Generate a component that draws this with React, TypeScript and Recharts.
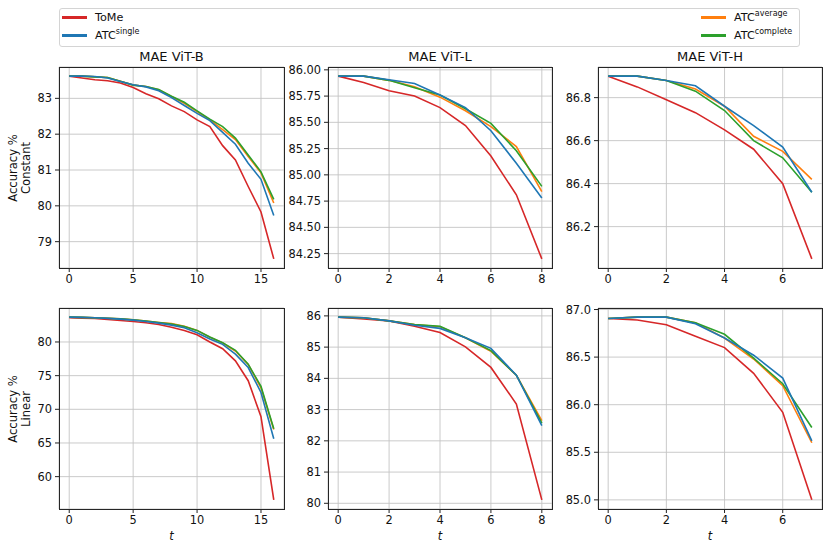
import React from 'react';
import { LineChart, Line, XAxis, YAxis, CartesianGrid } from 'recharts';

const FONT = "'DejaVu Sans', sans-serif";

// ---- steps (t) ----
const stepsB = [0, 1, 2, 3, 4, 5, 6, 7, 8, 9, 10, 11, 12, 13, 14, 15, 16];
const stepsL = [0, 1, 2, 3, 4, 5, 6, 7, 8];
const stepsH = [0, 1, 2, 3, 4, 5, 6, 7];

// ---- Constant schedule ----
const tomeBConst = [83.62, 83.57, 83.52, 83.49, 83.43, 83.3, 83.13, 82.99, 82.79, 82.63, 82.4, 82.21, 81.68, 81.28, 80.54, 79.83, 78.52];
const singleBConst = [83.62, 83.62, 83.61, 83.57, 83.47, 83.38, 83.32, 83.21, 83.02, 82.8, 82.58, 82.38, 82.05, 81.72, 81.19, 80.74, 79.73];
const averageBConst = [83.62, 83.62, 83.6, 83.58, 83.48, 83.37, 83.33, 83.24, 83.05, 82.86, 82.63, 82.4, 82.13, 81.85, 81.38, 80.92, 80.08];
const completeBConst = [83.62, 83.62, 83.6, 83.58, 83.48, 83.37, 83.33, 83.25, 83.06, 82.89, 82.65, 82.42, 82.21, 81.89, 81.42, 80.95, 80.18];

const tomeLConst = [85.94, 85.88, 85.8, 85.75, 85.64, 85.47, 85.18, 84.81, 84.2];
const singleLConst = [85.94, 85.94, 85.905, 85.87, 85.76, 85.64, 85.42, 85.11, 84.78];
const averageLConst = [85.94, 85.94, 85.9, 85.84, 85.74, 85.61, 85.46, 85.27, 84.84];
const completeLConst = [85.94, 85.94, 85.9, 85.83, 85.76, 85.63, 85.49, 85.23, 84.89];

const tomeHConst = [86.9, 86.85, 86.79, 86.73, 86.65, 86.56, 86.4, 86.05];
const singleHConst = [86.9, 86.9, 86.88, 86.855, 86.76, 86.67, 86.57, 86.36];
const averageHConst = [86.9, 86.9, 86.88, 86.84, 86.76, 86.62, 86.55, 86.42];
const completeHConst = [86.9, 86.9, 86.88, 86.83, 86.74, 86.6, 86.52, 86.36];

// ---- Linear schedule ----
const tomeBLin = [83.59, 83.55, 83.49, 83.35, 83.2, 83.05, 82.85, 82.6, 82.2, 81.7, 81.08, 80.0, 79.0, 77.2, 74.25, 68.9, 56.55];
const singleBLin = [83.69, 83.65, 83.6, 83.5, 83.4, 83.25, 83.05, 82.8, 82.5, 82.1, 81.38, 80.44, 79.65, 78.2, 76.2, 72.5, 65.64];
const averageBLin = [83.69, 83.65, 83.6, 83.52, 83.43, 83.3, 83.12, 82.9, 82.72, 82.35, 81.72, 80.7, 79.85, 78.65, 76.65, 73.2, 67.0];
const completeBLin = [83.69, 83.65, 83.6, 83.52, 83.43, 83.3, 83.12, 82.9, 82.68, 82.3, 81.72, 80.74, 79.9, 78.77, 76.7, 73.4, 67.1];

const tomeLLin = [85.96, 85.9, 85.84, 85.67, 85.47, 85.01, 84.35, 83.18, 80.11];
const singleLLin = [85.96, 85.94, 85.84, 85.7, 85.6, 85.3, 84.96, 84.1, 82.49];
const averageLLin = [85.96, 85.94, 85.84, 85.72, 85.65, 85.3, 84.87, 84.1, 82.65];
const completeLLin = [85.96, 85.94, 85.84, 85.72, 85.67, 85.3, 84.89, 84.1, 82.57];

const tomeHLin = [86.905, 86.89, 86.84, 86.72, 86.6, 86.33, 85.92, 85.0];
const singleHLin = [86.905, 86.92, 86.92, 86.85, 86.7, 86.52, 86.28, 85.62];
const averageHLin = [86.905, 86.92, 86.92, 86.86, 86.7, 86.48, 86.2, 85.6];
const completeHLin = [86.905, 86.92, 86.92, 86.86, 86.74, 86.49, 86.22, 85.76];

// ---- ticks ----
const xTicksB = [0, 5, 10, 15];
const xTicksL = [0, 2, 4, 6, 8];
const xTicksH = [0, 2, 4, 6];
const yTicksBConst = [79, 80, 81, 82, 83];
const yTicksLConst = [84.25, 84.5, 84.75, 85, 85.25, 85.5, 85.75, 86];
const yTicksHConst = [86.2, 86.4, 86.6, 86.8];
const yTicksBLin = [60, 65, 70, 75, 80];
const yTicksLLin = [80, 81, 82, 83, 84, 85, 86];
const yTicksHLin = [85, 85.5, 86, 86.5, 87];

const titles = ['MAE ViT-B', 'MAE ViT-L', 'MAE ViT-H'];
const rowLabels = ['Constant', 'Linear'];

// drawing order: ToMe, average, complete, single (single on top)
const seriesInfo = [
  { key: 'tome', name: 'ToMe', sup: '', color: '#d62728' },
  { key: 'average', name: 'ATC', sup: 'average', color: '#ff7f0e' },
  { key: 'complete', name: 'ATC', sup: 'complete', color: '#2ca02c' },
  { key: 'single', name: 'ATC', sup: 'single', color: '#1f77b4' },
];
const legendLeft = ['tome', 'single'];
const legendRight = ['average', 'complete'];

function buildRows(steps: number[], tome: number[], single: number[], average: number[], complete: number[]) {
  return steps.map((t, i) => ({ t, tome: tome[i], single: single[i], average: average[i], complete: complete[i] }));
}

function pad(lo: number, hi: number): [number, number] {
  const m = (hi - lo) * 0.05;
  return [lo - m, hi + m];
}

const colLeft = [59, 328, 598];
const colWidth = [225, 224, 224];
const rowTop = [67, 308];
const plotH = 201;

const panels = [
  { row: 0, col: 0, steps: stepsB, rows: buildRows(stepsB, tomeBConst, singleBConst, averageBConst, completeBConst), xTicks: xTicksB, yTicks: yTicksBConst, dec: 0 },
  { row: 0, col: 1, steps: stepsL, rows: buildRows(stepsL, tomeLConst, singleLConst, averageLConst, completeLConst), xTicks: xTicksL, yTicks: yTicksLConst, dec: 2 },
  { row: 0, col: 2, steps: stepsH, rows: buildRows(stepsH, tomeHConst, singleHConst, averageHConst, completeHConst), xTicks: xTicksH, yTicks: yTicksHConst, dec: 1 },
  { row: 1, col: 0, steps: stepsB, rows: buildRows(stepsB, tomeBLin, singleBLin, averageBLin, completeBLin), xTicks: xTicksB, yTicks: yTicksBLin, dec: 0 },
  { row: 1, col: 1, steps: stepsL, rows: buildRows(stepsL, tomeLLin, singleLLin, averageLLin, completeLLin), xTicks: xTicksL, yTicks: yTicksLLin, dec: 0 },
  { row: 1, col: 2, steps: stepsH, rows: buildRows(stepsH, tomeHLin, singleHLin, averageHLin, completeHLin), xTicks: xTicksH, yTicks: yTicksHLin, dec: 1 },
];

const tickStyle = { fontSize: 11.4, fill: '#111', fontFamily: FONT };

function Panel(p: any) {
  const left = colLeft[p.col];
  const top = rowTop[p.row];
  const w = colWidth[p.col];
  const vals: number[] = p.rows.flatMap((r: any) => [r.tome, r.single, r.average, r.complete]);
  const yDom = pad(Math.min(...vals), Math.max(...vals));
  const xDom = pad(p.steps[0], p.steps[p.steps.length - 1]);
  return (
    <>
      <div style={{ position: 'absolute', left: left - 50, top: top - 5 }}>
        <LineChart width={w + 55} height={plotH + 35} data={p.rows} margin={{ top: 5, right: 5, bottom: 0, left: 0 }}>
          <CartesianGrid stroke="#c4c4c4" strokeWidth={0.9} />
          <XAxis
            dataKey="t"
            type="number"
            domain={xDom}
            ticks={p.xTicks}
            allowDataOverflow
            interval={0}
            height={30}
            tickSize={4}
            tickMargin={3}
            axisLine={false}
            tickLine={{ stroke: '#222', strokeWidth: 1 }}
            tick={tickStyle}
          />
          <YAxis
            type="number"
            domain={yDom}
            ticks={p.yTicks}
            allowDataOverflow
            interval={0}
            width={50}
            tickSize={4}
            tickMargin={3}
            axisLine={false}
            tickLine={{ stroke: '#222', strokeWidth: 1 }}
            tick={tickStyle}
            tickFormatter={(v: number) => v.toFixed(p.dec)}
          />
          {seriesInfo.map((s) => (
            <Line
              key={s.key}
              type="linear"
              dataKey={s.key}
              stroke={s.color}
              strokeWidth={1.6}
              dot={false}
              activeDot={false}
              isAnimationActive={false}
            />
          ))}
        </LineChart>
      </div>
      <div
        style={{
          position: 'absolute',
          left: left,
          top: top,
          width: w + 1,
          height: plotH + 1,
          border: '1px solid #262626',
          boxSizing: 'border-box',
          pointerEvents: 'none',
        }}
      />
    </>
  );
}

function LegendEntry({ k }: { k: string }) {
  const s = seriesInfo.find((x) => x.key === k)!;
  return (
    <div style={{ display: 'flex', alignItems: 'center', height: 18 }}>
      <div style={{ width: 25, height: 3, background: s.color, marginRight: 8 }} />
      <span style={{ fontSize: 11.2, fontFamily: FONT, color: '#111', whiteSpace: 'nowrap' }}>
        {s.name}
        {s.sup ? <sup style={{ fontSize: 8, verticalAlign: 'top', position: 'relative', top: -2 }}>{s.sup}</sup> : null}
      </span>
    </div>
  );
}

export default function App() {
  return (
    <div style={{ position: 'absolute', left: 0, top: 0, width: 830, height: 552, background: '#fff', overflow: 'hidden', fontFamily: FONT }}>
      {/* legend box */}
      <div
        style={{
          position: 'absolute',
          left: 59,
          top: 8,
          width: 741,
          height: 39,
          border: '1px solid #d4d4d4',
          borderRadius: 3,
          boxSizing: 'border-box',
          background: 'rgba(255,255,255,0.8)',
        }}
      />
      <div style={{ position: 'absolute', left: 62, top: 8.5 }}>
        {legendLeft.map((k) => (
          <LegendEntry key={k} k={k} />
        ))}
      </div>
      <div style={{ position: 'absolute', left: 701, top: 8.5 }}>
        {legendRight.map((k) => (
          <LegendEntry key={k} k={k} />
        ))}
      </div>

      {titles.map((t, i) => (
        <div
          key={t}
          style={{
            position: 'absolute',
            left: colLeft[i],
            width: colWidth[i],
            top: 48,
            lineHeight: '17px',
            textAlign: 'center',
            fontSize: 13,
            color: '#111',
          }}
        >
          {t}
        </div>
      ))}

      {rowLabels.map((r, i) => (
        <div
          key={r}
          style={{
            position: 'absolute',
            left: 20 - 60,
            top: rowTop[i] + plotH / 2 - 13,
            width: 120,
            height: 26,
            transform: 'rotate(-90deg)',
            transformOrigin: '60px 13px',
            textAlign: 'center',
            fontSize: 11.6,
            lineHeight: '12.5px',
            color: '#111',
          }}
        >
          <div>Accuracy %</div>
          <div>{r}</div>
        </div>
      ))}

      {colLeft.map((l, i) => (
        <div
          key={'t' + i}
          style={{
            position: 'absolute',
            left: l,
            width: colWidth[i],
            top: 528,
            lineHeight: '17px',
            textAlign: 'center',
            fontSize: 11.4,
            fontStyle: 'italic',
            color: '#111',
          }}
        >
          t
        </div>
      ))}

      {panels.map((p, i) => (
        <Panel key={i} {...p} />
      ))}
    </div>
  );
}
